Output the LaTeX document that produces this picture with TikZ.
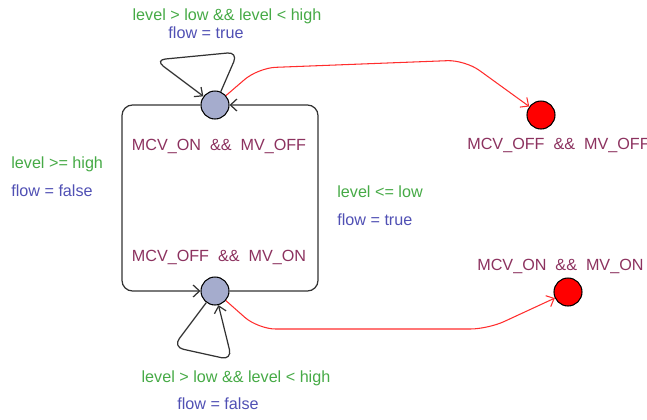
\documentclass[tikz,border=0pt]{standalone}
\usepackage{fontspec}
\setmainfont{Liberation Sans}
\usetikzlibrary{arrows.meta,automata}
\definecolor{guardgreen}{RGB}{70,170,70}
\definecolor{updblue}{RGB}{80,80,180}
\definecolor{invpurple}{RGB}{140,50,95}
\definecolor{locfill}{RGB}{165,172,205}
\definecolor{edgered}{RGB}{255,45,45}

\begin{document}
\begin{tikzpicture}[x=0.02cm,y=-0.02cm,
  every state/.style={draw=black,line width=0.6pt,fill=locfill,minimum size=0.56cm,inner sep=0pt},
  errstate/.style={state,fill=red},
  lbl/.style={font=\fontsize{9.2}{11}\selectfont,inner sep=0pt,text height=0.72em,text depth=0.2em},
  guard/.style={lbl,text=guardgreen},
  update/.style={lbl,text=updblue},
  inv/.style={lbl,text=invpurple},
  trans/.style={draw=black!80,line width=0.7pt,rounded corners=6,-{Straight Barb[length=1.3mm,width=2.4mm]}},
  errtrans/.style={draw=edgered,line width=0.6pt,rounded corners=10,-{Straight Barb[length=1.3mm,width=2.4mm]}}]
\useasboundingbox (0,0) rectangle (647,420);

% locations
\node[state] (on) at (215,105) {};
\node[state] (off) at (215,291) {};
\node[errstate] (offoff) at (541,115) {};
\node[errstate] (onon) at (568,292) {};

% invariants
\node[inv] (ioff) at (219,146) {MCV\_ON\ \ \&\&\ \ MV\_OFF};
\node[inv] (ion) at (219,257) {MCV\_OFF\ \ \&\&\ \ MV\_ON};
\node[inv,anchor=west] (ioffoff) at (467,145) {MCV\_OFF\ \ \&\&\ \ MV\_OFF};
\node[inv,anchor=west] (ionon) at (477,266) {MCV\_ON\ \ \&\&\ \ MV\_ON};

% transitions
\draw[trans] (on) -- ++(-93,0) |- (off);
\draw[trans] (off) -- ++(103,0) |- (on);
\draw[trans] (on) -- (238,52) -- (155,60) -- (on);
\draw[trans] (off) -- (173,347) -- (232,360) -- (off);
\draw[errtrans] (on) -- (258,68) -- (465,60) -- (offoff);
\draw[errtrans] (off) -- (258,329) -- (488,329) -- (onon);

% guards and updates
\node[guard] (gtop) at (227,16) {level > low \&\& level < high};
\node[update] (utop) at (206,34) {flow = true};
\node[guard,anchor=west] (gleft) at (11,164) {level >= high};
\node[update,anchor=west] (uleft) at (11,192) {flow = false};
\node[guard,anchor=west] (gright) at (337,193) {level <= low};
\node[update,anchor=west] (uright) at (337,221) {flow = true};
\node[guard] (gbot) at (236,378) {level > low \&\& level < high};
\node[update] (ubot) at (218,405) {flow = false};
\end{tikzpicture}
\end{document}
